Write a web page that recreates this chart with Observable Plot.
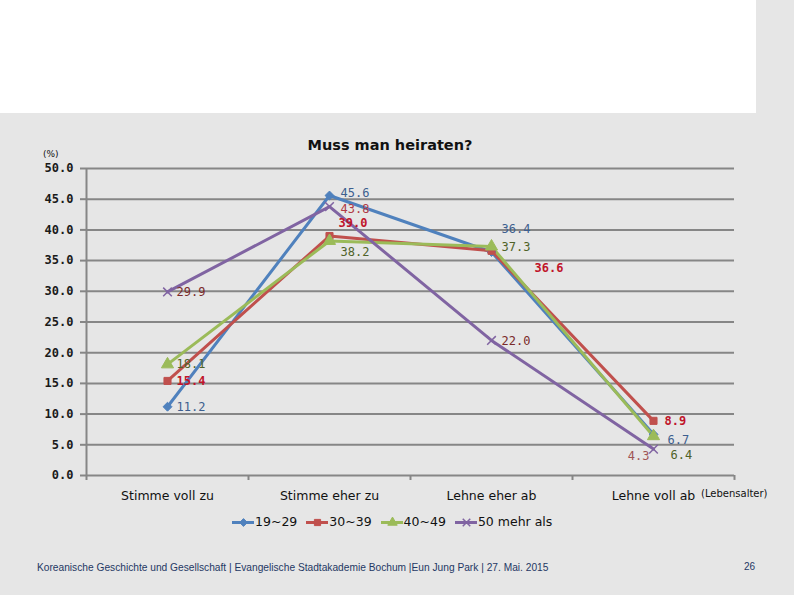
<!DOCTYPE html>
<html>
<head>
<meta charset="utf-8">
<script src="https://cdn.jsdelivr.net/npm/d3@7"></script>
<script src="https://cdn.jsdelivr.net/npm/@observablehq/plot@0.6"></script>
<style>
  html, body { margin: 0; padding: 0; }
  body { width: 794px; height: 595px; background: #e6e6e6; position: relative; overflow: hidden; font-family: "DejaVu Sans", sans-serif; }
  #white { position: absolute; left: 0; top: 0; width: 756px; height: 113px; background: #fff; }
  #chart { position: absolute; left: 0; top: 0; }
  #title { position: absolute; left: 0; width: 780px; top: 137px; text-align: center; font: bold 14.5px "DejaVu Sans", sans-serif; color: #111; }
  #pct { position: absolute; left: 43px; top: 149px; font: 9px "DejaVu Sans", sans-serif; color: #111; }
  #lebens { position: absolute; left: 701px; top: 488px; font: 10px "DejaVu Sans", sans-serif; color: #111; }
  #legend { position: absolute; left: 232px; top: 514px; display: flex; gap: 9px; font: 12.5px "DejaVu Sans", sans-serif; color: #111; }
  #legend span.item { display: flex; align-items: center; gap: 1px; }
  #footer { position: absolute; left: 37px; top: 562px; font: 10.2px "Liberation Sans", Arial, sans-serif; color: #1f3864; white-space: nowrap; }
  #page { position: absolute; left: 744px; top: 561px; font: 10px "Liberation Sans", Arial, sans-serif; color: #1f3864; }
</style>
</head>
<body>
<div id="white"></div>
<div id="chart"></div>
<div id="title">Muss man heiraten?</div>
<div id="pct">(%)</div>
<div id="lebens">(Lebensalter)</div>
<div id="legend"></div>
<div id="footer">Koreanische Geschichte und Gesellschaft | Evangelische Stadtakademie Bochum |Eun Jung Park | 27. Mai. 2015</div>
<div id="page">26</div>
<script>
// ---- data ----
const categories = ["Stimme voll zu", "Stimme eher zu", "Lehne eher ab", "Lehne voll ab"];
const seriesNames = ["19~29", "30~39", "40~49", "50 mehr als"];
const values1929 = [11.2, 45.6, 36.4, 6.7];
const values3039 = [15.4, 39.0, 36.6, 8.9];
const values4049 = [18.1, 38.2, 37.3, 6.4];
const values50 = [29.9, 43.8, 22.0, 4.3];
const yTicks = [0, 5, 10, 15, 20, 25, 30, 35, 40, 45, 50];

// ---- styles ----
const lineColors = ["#4f81bd", "#c0504d", "#9bbb59", "#8064a2"];
const labelColors = [
  ["#3d5f8f", "#3d5f8f", "#3d5f8f", "#3d5f8f"],
  ["#c0142a", "#c0142a", "#c0142a", "#c0142a"],
  ["#4f6228", "#4f6228", "#4f6228", "#4f6228"],
  ["#7a2a2a", "#b03a45", "#7a2a2a", "#a05555"]
];
const symbols = ["diamond2", "square", "triangle", "times"];
// label nudges [dx, dy, anchor]
const labelNudge = [
  [[9, 0, "start"], [11, -2, "start"], [10, -23, "start"], [14, 6, "start"]],
  [[9, 0, "start"], [9, -13, "start"], [43, 17, "start"], [11, 0, "start"]],
  [[9, 0, "start"], [11, 11, "start"], [10, 1, "start"], [17, 19, "start"]],
  [[9, 0, "start"], [11, 3, "start"], [10, 1, "start"], [-4, 7, "end"]]
];

const allValues = [values1929, values3039, values4049, values50];
const rows = [];
allValues.forEach((vals, s) => vals.forEach((v, i) => rows.push({
  series: seriesNames[s], s, i, x: i + 0.5, cat: categories[i], v,
  color: lineColors[s], lcolor: labelColors[s][i],
  dx: labelNudge[s][i][0], dy: labelNudge[s][i][1], anchor: labelNudge[s][i][2]
})));

const marks = [
  Plot.ruleY(yTicks, {stroke: "#868686", strokeWidth: 2}),
  Plot.ruleX([0], {y1: -0.8, y2: 50, stroke: "#868686", strokeWidth: 2}),
  Plot.ruleX([4], {y1: -0.8, y2: 0, stroke: "#868686", strokeWidth: 2}),
  Plot.axisY({ticks: yTicks, tickFormat: d3.format(".1f"), tickSize: 6, tickPadding: 7,
    stroke: "#868686", strokeWidth: 2, fontSize: 12, fontFamily: "DejaVu Sans Mono", fontWeight: "bold", fill: "#1a1a1a", label: null}),
  Plot.axisX({ticks: [1, 2, 3], tickSize: 5, tickFormat: () => "", stroke: "#868686", strokeWidth: 2, label: null}),
  Plot.axisX({ticks: [0.5, 1.5, 2.5, 3.5], tickSize: 0, tickPadding: 16, tickFormat: d => categories[Math.floor(d)],
    fontSize: 12.5, fontFamily: "DejaVu Sans", fill: "#111", label: null})
];
seriesNames.forEach((name, s) => {
  const data = rows.filter(r => r.s === s);
  marks.push(Plot.line(data, {x: "x", y: "v", stroke: lineColors[s], strokeWidth: 3}));
});
seriesNames.forEach((name, s) => {
  const data = rows.filter(r => r.s === s);
  marks.push(Plot.dot(data, {x: "x", y: "v", symbol: () => symbols[s], r: s === 2 ? 4.5 : 4,
    fill: s === 3 ? "none" : lineColors[s], stroke: lineColors[s], strokeWidth: s === 3 ? 1.5 : 1}));
});
rows.forEach(r => {
  marks.push(Plot.text([r], {x: "x", y: "v", text: d => d3.format(".1f")(d.v), dx: r.dx, dy: r.dy,
    textAnchor: r.anchor, fill: r.lcolor, fontSize: 12, fontFamily: "DejaVu Sans Mono",
    fontWeight: r.s === 1 ? "bold" : "normal"}));
});

const chart = Plot.plot({
  width: 794, height: 595,
  marginLeft: 86, marginRight: 60, marginTop: 168, marginBottom: 120,
  style: {background: "transparent", overflow: "visible"},
  x: {type: "linear", domain: [0, 4], axis: null},
  y: {domain: [0, 50], axis: null},
  marks
});
document.getElementById("chart").appendChild(chart);

// legend
const legend = document.getElementById("legend");
seriesNames.forEach((name, s) => {
  const item = document.createElement("span");
  item.className = "item";
  const sym = Plot.plot({
    width: 22, height: 14, margin: 0,
    style: {background: "transparent"},
    x: {domain: [0, 1], axis: null}, y: {domain: [0, 1], axis: null},
    marks: [
      Plot.ruleY([0.5], {x1: 0, x2: 1, stroke: lineColors[s], strokeWidth: 3}),
      Plot.dot([0.5], {x: 0.5, y: 0.5, symbol: () => symbols[s], r: 3.5,
        fill: s === 3 ? "none" : lineColors[s], stroke: lineColors[s], strokeWidth: s === 3 ? 1.5 : 1})
    ]
  });
  item.appendChild(sym);
  const t = document.createElement("span");
  t.textContent = name;
  item.appendChild(t);
  legend.appendChild(item);
});
</script>
</body>
</html>
